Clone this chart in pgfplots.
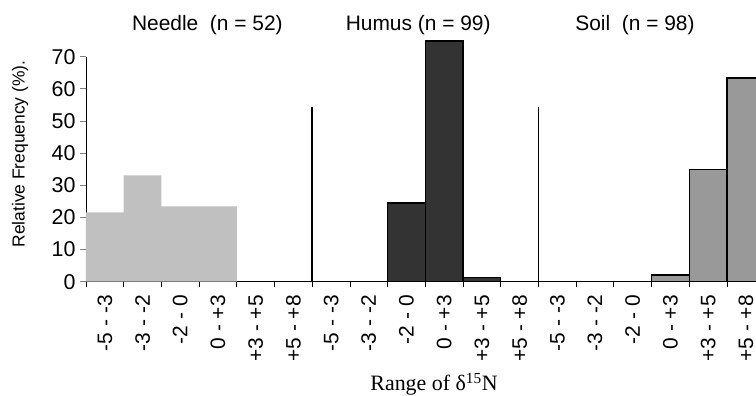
\documentclass[border=0pt]{standalone}
\usepackage{pgfplots}
\pgfplotsset{compat=1.18}
\usepackage{fontspec}
\setmainfont{Liberation Sans}
\newfontfamily\seriffont{Liberation Serif}
\definecolor{needle}{HTML}{C0C0C0}
\definecolor{humus}{HTML}{333333}
\definecolor{soil}{HTML}{999999}
\begin{document}
\begin{tikzpicture}
\begin{axis}[
  name=ax,
  scale only axis,
  width=670bp, height=225bp,
  xmin=-0.5, xmax=17.27,
  ymin=0, ymax=70,
  clip=false,
  axis x line=bottom, axis y line=left,
  axis line style={-, line width=0.8pt},
  ytick={0,10,...,70},
  xtick={0,...,17},
  xticklabels={-5 - -3,-3 - -2,-2 - 0,0 - +3,+3 - +5,+5 - +8,
               -5 - -3,-3 - -2,-2 - 0,0 - +3,+3 - +5,+5 - +8,
               -5 - -3,-3 - -2,-2 - 0,0 - +3,+3 - +5,+5 - +8},
  minor xtick={-0.5,0.5,...,16.5},
  tick align=outside,
  major tick length=6bp,
  minor tick length=5bp,
  x tick style={draw=none},
  minor x tick style={draw=black, line width=0.8pt},
  y tick style={line width=0.8pt},
  /pgf/number format/assume math mode=true,
  yticklabel style={font=\fontsize{21.5}{23}\selectfont, xshift=-1bp},
  xticklabel style={font=\fontsize{21}{22}\selectfont, rotate=90, anchor=east, xshift=-4bp},
  ylabel={Relative Frequency (\%).},
  ylabel style={font=\fontsize{17.5}{19}\selectfont, at={(axis description cs:-0.0985,0.5676)}, anchor=center},
  ybar, bar width=1, bar shift=0,
]
\addplot[fill=needle, draw=none] coordinates {(0,21.6) (1,33.1) (2,23.4) (3,23.4)};
\addplot[fill=humus, draw=black, line width=1.2pt] coordinates {(8,24.5) (9,74.9) (10,1.4)};
\addplot[fill=soil, draw=black, line width=1.2pt] coordinates {(15,2.1) (16,34.8) (17,63.4)};
\addplot[sharp plot, black, line width=1.6pt] coordinates {(5.5,0) (5.5,54.5)};
\addplot[sharp plot, black, line width=1.6pt] coordinates {(11.5,0) (11.5,54.5)};
\node[anchor=base, font=\fontsize{21}{23}\selectfont] at (axis cs:2.72,78.3) {Needle~~(n = 52)};
\node[anchor=base, font=\fontsize{21}{23}\selectfont] at (axis cs:8.31,78.3) {Humus (n = 99)};
\node[anchor=base, font=\fontsize{21}{23}\selectfont] at (axis cs:14.06,78.3) {Soil~~(n = 98)};
\node[anchor=base, font=\seriffont\fontsize{22}{24}\selectfont] at (axis cs:8.73,-34.0) {Range of δ\textsuperscript{15}N};
\end{axis}
\pgfresetboundingbox
\path ([xshift=-86bp,yshift=-114.3bp]ax.south west) rectangle ([yshift=56.7bp]ax.north east);
\end{tikzpicture}
\end{document}
